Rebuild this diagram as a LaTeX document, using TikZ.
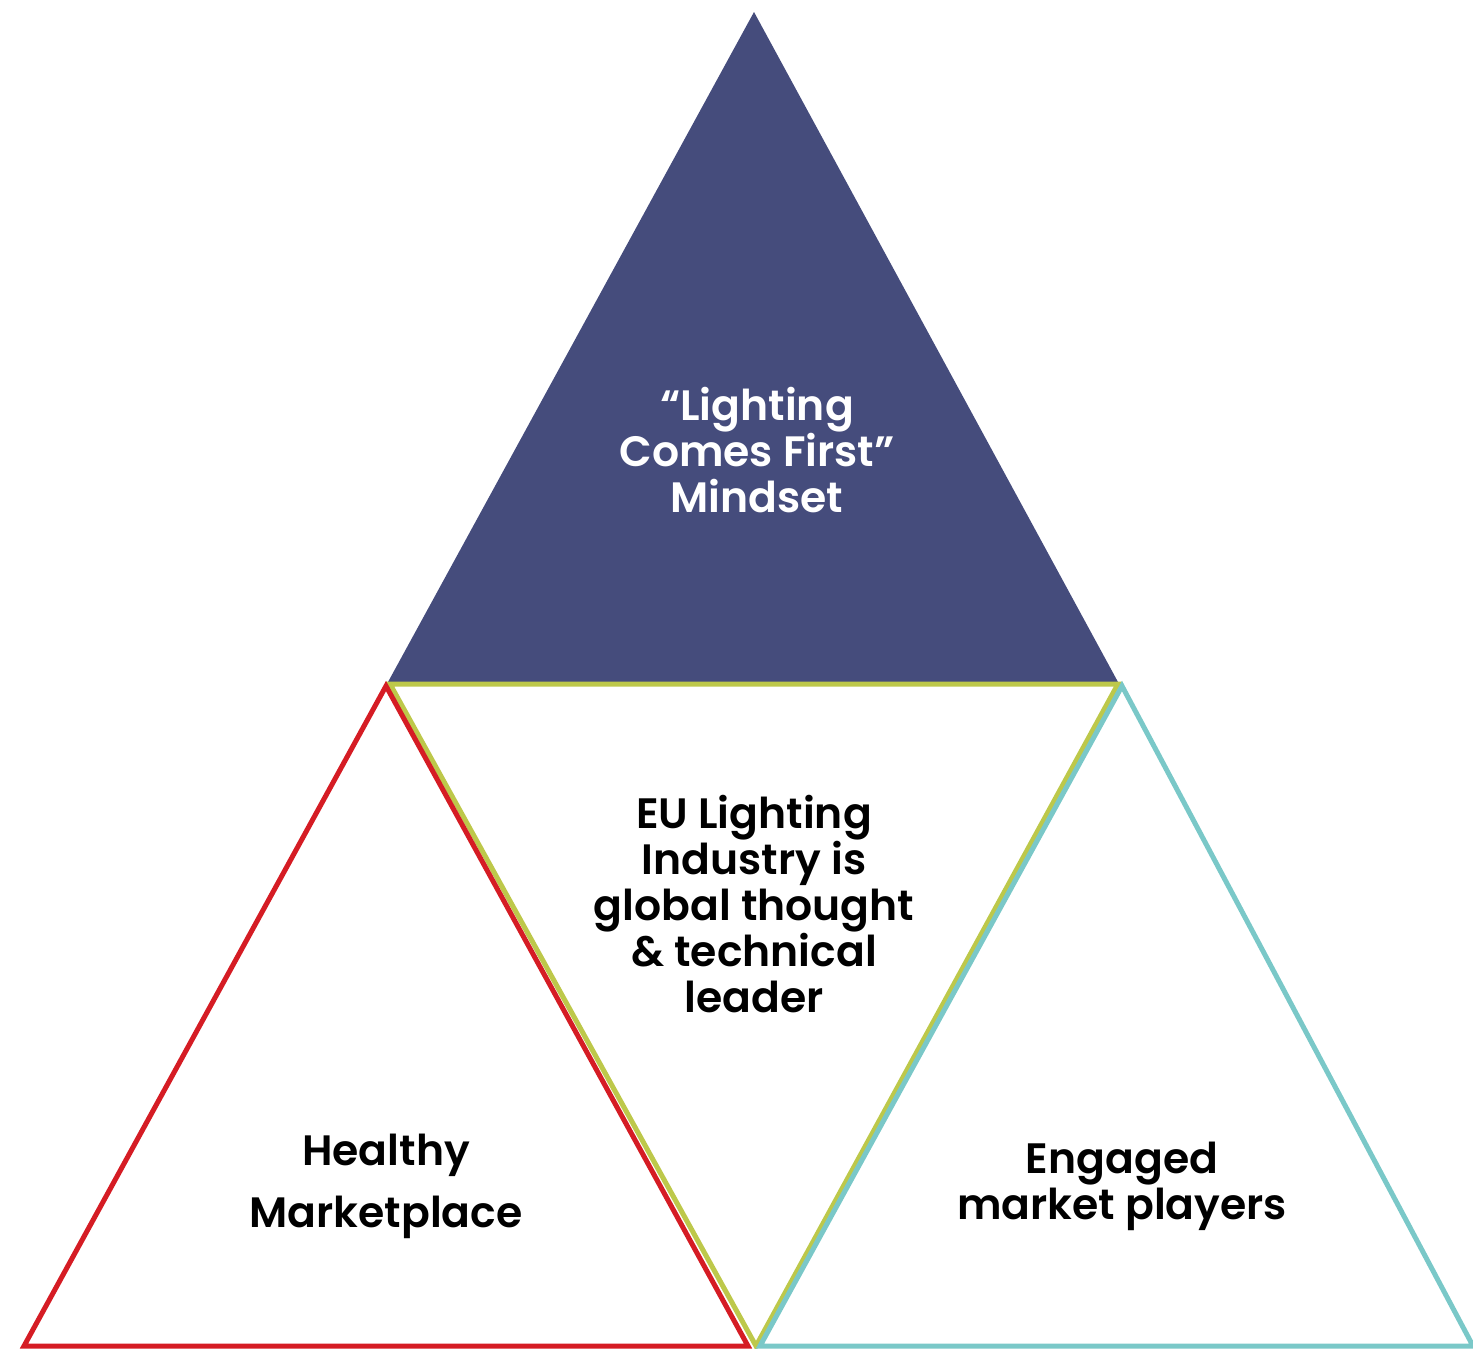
\documentclass[tikz,border=0pt]{standalone}
\usepackage{fontspec}
\setmainfont{Poppins}
\newfontfamily\semibold{Poppins SemiBold}
\usepackage{tikz}

\definecolor{navy}{RGB}{69,76,124}
\definecolor{redline}{RGB}{213,28,36}
\definecolor{greenline}{RGB}{189,200,74}
\definecolor{tealline}{RGB}{122,200,200}

\begin{document}
\begin{tikzpicture}[x=1pt,y=1pt,yscale=-1,xscale=1,
  label/.style={align=center,font=\semibold\fontsize{42.5}{46}\selectfont}]
\useasboundingbox (0,0) rectangle (1473,1349);

%Shape: Triangle
\draw [fill=navy, draw=none] (754,12) -- (1118,682) -- (388,682) -- cycle ;
%Shape: Triangle
\draw [color=greenline, line width=5, line join=miter] (390,684) -- (1118,684) -- (756,1346) -- cycle ;
%Shape: Triangle
\draw [color=redline, line width=5] (386,686) -- (748,1346) -- (24,1346) -- cycle ;
%Shape: Triangle
\draw [color=tealline, line width=5] (1122,686) -- (1473,1346) -- (760,1346) -- cycle ;

% Text Node
\draw (757,450) node (mindset) [label, text=white] {“Lighting\\Comes First”\\Mindset};
% Text Node
\draw (754,904) node (leader) [label] {EU Lighting\\Industry is\\global thought\\\& technical\\leader};
% Text Node
\draw (386,1186) node (market) [label] {Healthy\\[16pt]Marketplace};
% Text Node
\draw (1122,1186) node (players) [label] {Engaged\\market players};

\end{tikzpicture}
\end{document}
